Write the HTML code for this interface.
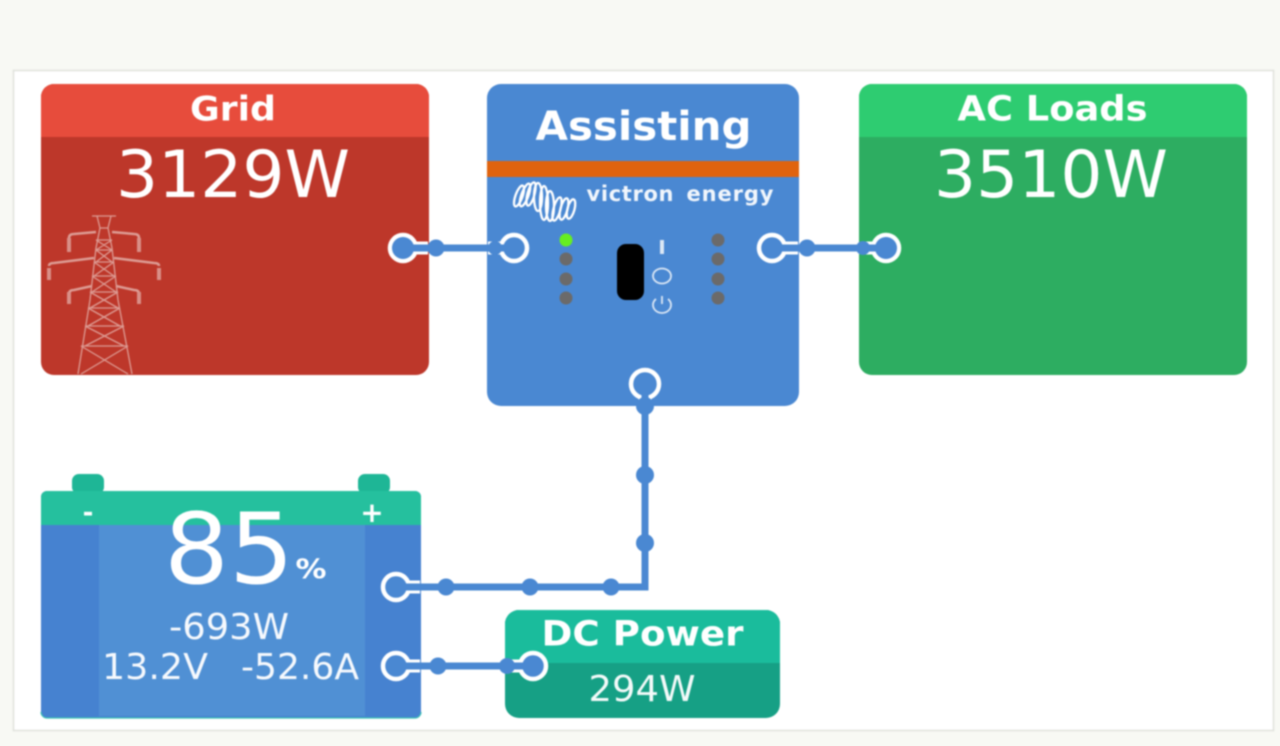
<!DOCTYPE html>
<html><head><meta charset="utf-8"><style>
html,body{margin:0;padding:0;background:#f8f9f4;width:1280px;height:746px;overflow:hidden}
svg{display:block;filter:blur(.8px)}
text{font-family:"DejaVu Sans","Liberation Sans",sans-serif;fill:#fff;text-anchor:middle}
.b{font-weight:bold}
</style></head><body>
<svg width="1280" height="746" viewBox="0 0 1280 746" xmlns="http://www.w3.org/2000/svg">
<rect x="13.5" y="70.5" width="1260" height="660" fill="#fff" stroke="#e0e1dc" stroke-width="1.5"/>

<!-- Grid -->
<rect x="41" y="84" width="388" height="291" rx="13" fill="#bd372a"/>
<path d="M41 137V97a13 13 0 0 1 13-13H416a13 13 0 0 1 13 13V137Z" fill="#e74c3c"/>
<text class="b" x="233" y="120.500" font-size="34" textLength="86" lengthAdjust="spacingAndGlyphs">Grid</text>
<text x="233" y="197" font-size="65" textLength="234" lengthAdjust="spacingAndGlyphs">3129W</text>
<g fill="none" stroke="#dd9c94" stroke-width="1.300">
<path d="M92 216H116M97 216L100 228M111 216L108 228M100 228H108"/>
<path d="M100 228L96 248L90 300L78 374M108 228L112 248L118 300L132 374"/>
<path d="M96 240L112 250M112 240L96 250M96 250L112 262M112 250L96 262M94 262L114 276M114 262L94 276M92 276L116 292M116 276L92 292M90 292L118 308M118 292L90 308M88 308L120 326M120 308L88 326M85 326L124 346M124 326L85 346M81 346L128 374M128 346L81 374"/>
<path d="M96 240H112M96 250H112M94 262H114M92 276H116M90 292H118M88 308H120M85 326H124M81 346H128"/>
<path d="M69 238Q69 234 74 234L96 232M139 238Q139 234 134 234L112 232" stroke-width="2.500"/>
<path d="M49 266Q49 263 54 263L94 258M159 266Q159 263 154 263L114 258" stroke-width="2.500"/>
<path d="M69 294Q69 290 74 290L92 286M139 294Q139 290 134 290L116 286" stroke-width="2.500"/>
<path d="M49 268V280M159 268V280M69 292V304M139 292V304M69 238V252M139 238V252" stroke-width="4" stroke="#d98f87"/>
</g>

<!-- AC Loads -->
<rect x="859" y="84" width="388" height="291" rx="13" fill="#2dad61"/>
<path d="M859 137V97a13 13 0 0 1 13-13H1234a13 13 0 0 1 13 13V137Z" fill="#2ecc71"/>
<text class="b" x="1052.500" y="120.500" font-size="35" textLength="190" lengthAdjust="spacingAndGlyphs">AC Loads</text>
<text x="1051" y="197" font-size="65" textLength="234" lengthAdjust="spacingAndGlyphs">3510W</text>

<!-- Inverter -->
<rect x="487" y="84" width="312" height="322" rx="14" fill="#4a88d2"/>
<rect x="487" y="161" width="312" height="16" fill="#e0630e"/>
<text class="b" x="643.500" y="140" font-size="40" textLength="216" lengthAdjust="spacingAndGlyphs">Assisting</text>
<text class="b" x="630" y="201" font-size="21" textLength="87" lengthAdjust="spacing" fill-opacity=".92">victron</text>
<text class="b" x="730" y="201" font-size="21" textLength="87" lengthAdjust="spacing" fill-opacity=".92">energy</text>
<g fill="none" stroke="#fff" stroke-width="2.300">
<ellipse cx="519" cy="196" rx="3.500" ry="11" transform="rotate(20 519 196)"/>
<ellipse cx="525" cy="195" rx="3.500" ry="12" transform="rotate(20 525 195)"/>
<ellipse cx="531" cy="194" rx="3.500" ry="12" transform="rotate(15 531 194)"/>
<ellipse cx="538" cy="197" rx="4" ry="14"/>
<ellipse cx="544" cy="203" rx="4" ry="17"/>
<ellipse cx="550" cy="206" rx="4" ry="15"/>
<ellipse cx="557" cy="209" rx="3.500" ry="12" transform="rotate(15 557 209)"/>
<ellipse cx="564" cy="209" rx="3.500" ry="11" transform="rotate(15 564 209)"/>
<ellipse cx="571" cy="209" rx="3.500" ry="10" transform="rotate(15 571 209)"/>
</g>
<circle cx="566" cy="240" r="6.500" fill="#66ee22"/>
<g fill="#6b6a6a">
<circle cx="566" cy="259" r="6.500"/><circle cx="566" cy="279" r="6.500"/><circle cx="566" cy="298" r="6.500"/>
<circle cx="718" cy="240" r="6.500"/><circle cx="718" cy="259" r="6.500"/><circle cx="718" cy="279" r="6.500"/><circle cx="718" cy="298" r="6.500"/>
</g>
<rect x="617" y="244" width="27" height="56" rx="9" fill="#000"/>
<rect x="660" y="240" width="4" height="14" fill="#dbe7f5"/>
<g fill="none" stroke="#dbe7f5" stroke-width="1.800">
<ellipse cx="662" cy="276" rx="9" ry="7.500"/>
<path d="M656 299a9 8 0 1 0 12 0"/>
<path d="M662 296v8"/>
</g>

<!-- Battery -->
<rect x="72" y="474" width="32" height="20" rx="7" fill="#1eb696"/>
<rect x="358" y="474" width="32" height="20" rx="7" fill="#1eb696"/>
<rect x="41" y="491" width="380" height="227" rx="6" fill="#4682d0"/>
<rect x="99" y="525" width="266" height="191" fill="#5090d4"/>
<path d="M41 525V497a6 6 0 0 1 6-6H415a6 6 0 0 1 6 6V525Z" fill="#25c09e"/>
<path d="M41 712a6 6 0 0 0 6 6H415a6 6 0 0 0 6-6" fill="none" stroke="#3cc4b4" stroke-width="1.200"/>
<text class="b" x="88" y="521" font-size="26">-</text>
<text class="b" x="372" y="522" font-size="28">+</text>
<text x="229" y="583" font-size="98" textLength="130" lengthAdjust="spacingAndGlyphs">85</text>
<text class="b" x="311" y="578" font-size="27" textLength="31" lengthAdjust="spacingAndGlyphs">%</text>
<text x="229" y="639" font-size="36" textLength="120" lengthAdjust="spacingAndGlyphs" fill-opacity=".95">-693W</text>
<text x="155" y="679" font-size="36" textLength="106" lengthAdjust="spacingAndGlyphs" fill-opacity=".95">13.2V</text>
<text x="300" y="679" font-size="36" textLength="118" lengthAdjust="spacingAndGlyphs" fill-opacity=".95">-52.6A</text>

<!-- DC Power -->
<rect x="505" y="610" width="275" height="108" rx="14" fill="#16a085"/>
<path d="M505 663V624a14 14 0 0 1 14-14H766a14 14 0 0 1 14 14V663Z" fill="#1abc9c"/>
<text class="b" x="642.500" y="645.500" font-size="35" textLength="202" lengthAdjust="spacingAndGlyphs">DC Power</text>
<text x="642" y="701" font-size="36" textLength="107" lengthAdjust="spacingAndGlyphs" fill-opacity=".95">294W</text>

<!-- Connectors: necks -->
<g fill="none" stroke="#fff" stroke-width="13">
<path d="M404 248H428"/><path d="M396 587H420"/><path d="M396 666H420"/>
<path d="M772 248H798"/><path d="M886 248H860"/>
<path d="M645 384V404"/><path d="M533 666H506"/>
<path d="M514 248H488"/>
</g>
<g fill="#4a88d2" stroke="#fff" stroke-width="4.500">
<circle cx="403" cy="248" r="13"/>
<circle cx="514" cy="248" r="13"/>
<circle cx="772" cy="248" r="13"/>
<circle cx="886" cy="248" r="13"/>
<circle cx="645" cy="384" r="14"/>
<circle cx="396" cy="587" r="13"/>
<circle cx="396" cy="666" r="13"/>
<circle cx="533" cy="666" r="13"/>
</g>
<g fill="none" stroke="#4a88d2" stroke-width="7">
<path d="M403 248H514"/>
<path d="M772 248H886"/>
<path d="M645 384V587H396"/>
<path d="M396 666H533"/>
</g>
<g fill="#4a88d2">
<circle cx="403" cy="248" r="11"/><circle cx="436" cy="248" r="8.500"/><circle cx="495" cy="248" r="7"/>
<circle cx="807" cy="248" r="8.500"/><circle cx="863" cy="248" r="7"/><circle cx="886" cy="248" r="11"/>
<circle cx="645" cy="406" r="9"/><circle cx="645" cy="475" r="9"/><circle cx="645" cy="543" r="9"/>
<circle cx="611" cy="587" r="8.500"/><circle cx="530" cy="587" r="8.500"/><circle cx="446" cy="587" r="8.500"/>
<circle cx="438" cy="666" r="8.500"/><circle cx="507" cy="666" r="8"/>
</g>
</svg>
</body></html>
